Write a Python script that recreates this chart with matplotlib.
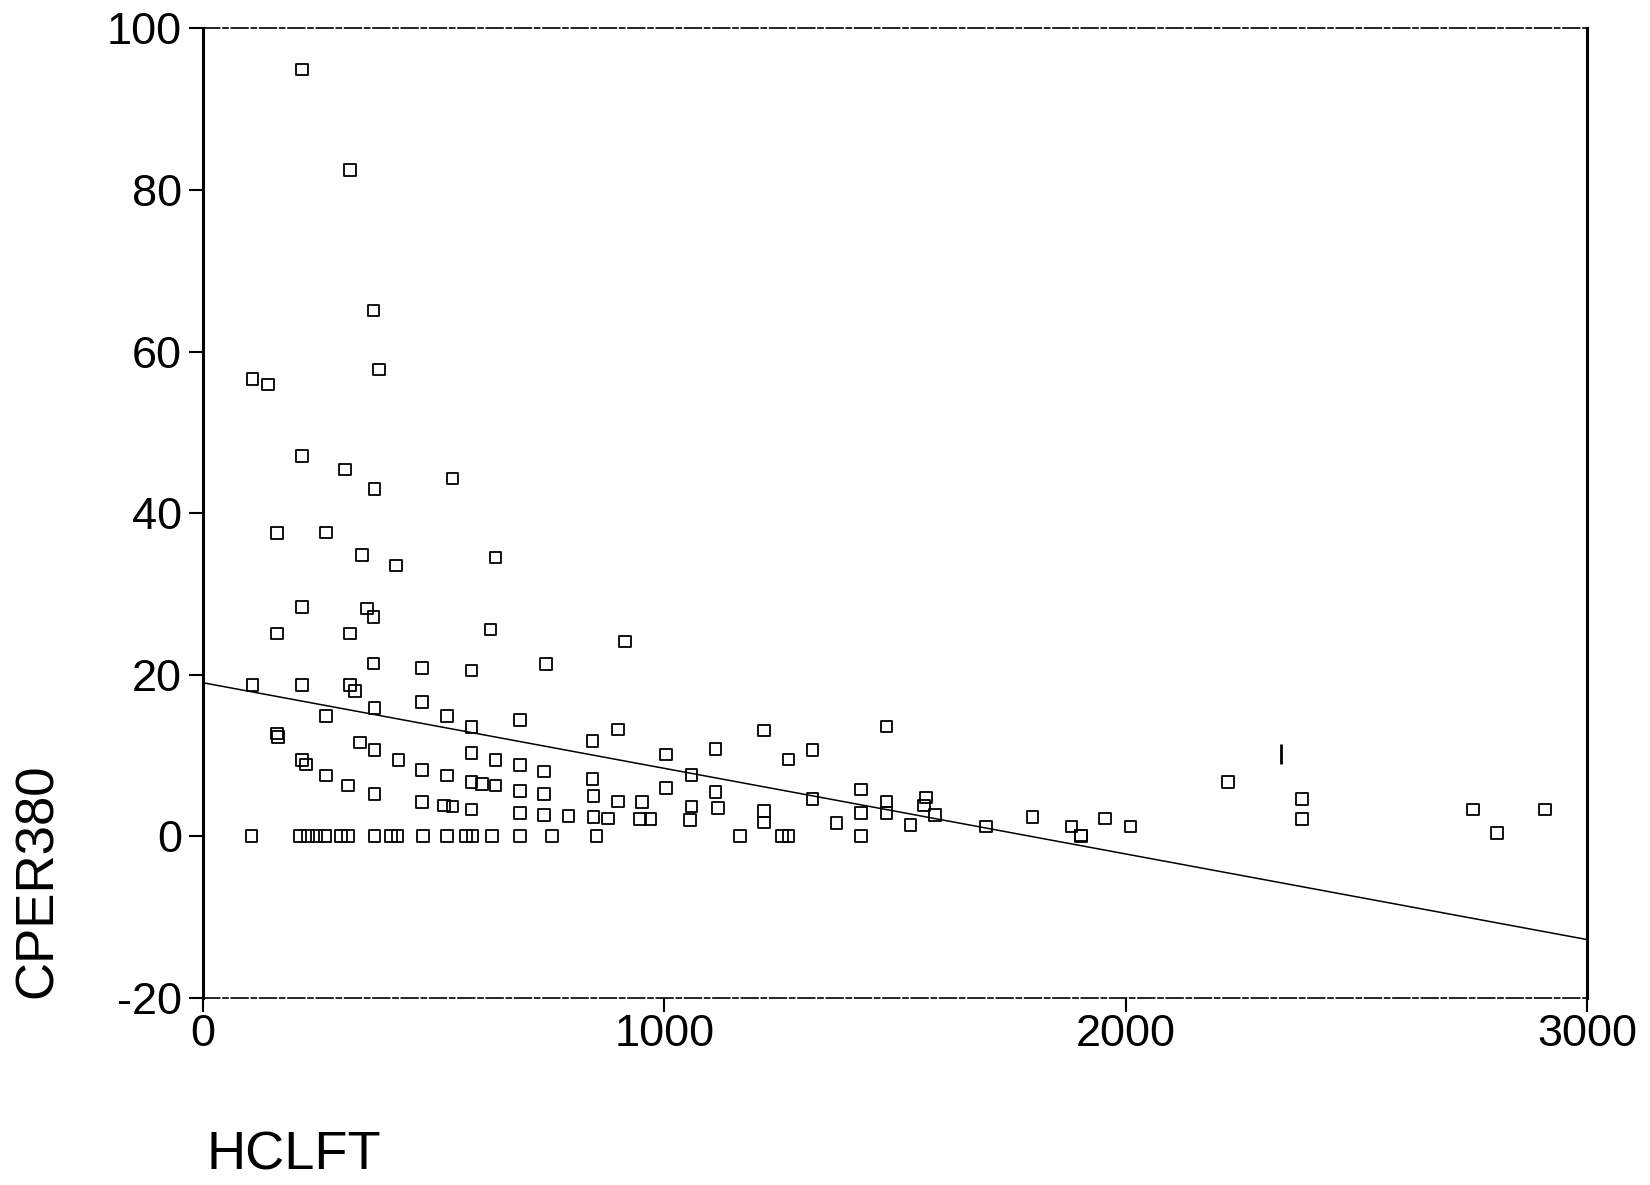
import matplotlib.pyplot as plt

# HCLFT (x) and CPER380 (y)
hclft = [214, 319, 370, 381, 107, 141, 214, 308, 372, 541,
         160, 267, 345, 418, 634, 214, 356, 370, 160, 319,
         623, 915, 370, 475, 582, 744, 107, 214, 319, 329,
         372, 267, 475, 529, 582, 687, 160, 162, 340, 372,
         214, 223, 424, 582, 634, 267, 475, 529, 315, 372,
         582, 605, 634, 687, 687, 739, 739, 475, 522, 541,
         582, 687, 739, 792, 844, 846, 846, 878, 899, 951,
         947, 970, 1004, 1059, 1056, 1111, 1116, 1216, 1216, 1321,
         1373, 1426, 1426, 1481, 1481, 1533, 1567, 1563, 1586, 1697,
         1798, 1882, 1903, 1955, 2010, 2222, 2382, 2382, 2752, 2804,
         2909, 844, 899, 1004, 1059, 1111, 1216, 1269, 1321, 1481,
         105, 210, 228, 246, 265, 299, 315, 372, 408, 422,
         477, 529, 570, 584, 627, 687, 757, 853, 1164, 1255,
         1269, 1426, 1903]
cper380 = [94.9, 82.5, 65.1, 57.8, 56.6, 55.9, 47.1, 45.4, 43.0, 44.3,
           37.5, 37.6, 34.8, 33.5, 34.5, 28.4, 28.2, 27.1, 25.1, 25.1,
           25.6, 24.1, 21.4, 20.8, 20.5, 21.3, 18.7, 18.7, 18.7, 18.0,
           15.9, 14.9, 16.6, 14.9, 13.5, 14.4, 12.7, 12.3, 11.6, 10.7,
           9.4, 8.9, 9.4, 10.3, 9.4, 7.5, 8.2, 7.5, 6.3, 5.2,
           6.7, 6.5, 6.3, 8.8, 5.6, 8.0, 5.2, 4.2, 3.8, 3.7,
           3.3, 2.9, 2.6, 2.5, 7.1, 5.0, 2.4, 2.2, 4.3, 4.2,
           2.1, 2.1, 6.0, 3.7, 2.0, 5.5, 3.5, 3.1, 1.7, 4.6,
           1.6, 5.8, 2.9, 4.3, 2.9, 1.4, 4.8, 3.8, 2.6, 1.2,
           2.4, 1.2, 0.1, 2.2, 1.2, 6.7, 4.6, 2.1, 3.3, 0.4,
           3.3, 11.8, 13.2, 10.1, 7.6, 10.8, 13.1, 9.5, 10.7, 13.6,
           0, 0, 0, 0, 0, 0, 0, 0, 0, 0,
           0, 0, 0, 0, 0, 0, 0, 0, 0, 0,
           0, 0, 0]

# one mark that only printed as a bar
bar_x = [2336]
bar_y = [10.2]

# fitted line as printed
fit_intercept = 19.0
fit_slope = -0.0106
fit_x = [0, 3000]

plt.rcParams['font.family'] = ['Liberation Sans', 'DejaVu Sans']
plt.rcParams['axes.unicode_minus'] = False

fig = plt.figure(figsize=(16.5, 11.85), dpi=100)
ax = fig.add_axes([0.123, 0.158, 0.839, 0.818])

ax.scatter(hclft, cper380, marker='s', s=70, facecolors='none',
           edgecolors='black', linewidths=1.3, zorder=3)
ax.scatter(bar_x, bar_y, marker='|', s=200, color='black', linewidths=2, zorder=3)
ax.plot(fit_x, [fit_intercept + fit_slope * v for v in fit_x],
        color='black', lw=1.1, zorder=2)

ax.set_xlim(0, 3000)
ax.set_ylim(-20, 100)
ax.set_xticks([0, 1000, 2000, 3000])
ax.set_yticks([-20, 0, 20, 40, 60, 80, 100])
ax.tick_params(axis='both', labelsize=32.5, length=10, width=1.5, direction='out',
               colors='black')
ax.tick_params(axis='x', pad=2)
ax.tick_params(axis='y', pad=5)

ax.spines['left'].set_linewidth(2.2)
ax.spines['right'].set_linewidth(2.2)
for side in ['top', 'bottom']:
    ax.spines[side].set_linewidth(1.2)
    ax.spines[side].set_linestyle((0, (10, 2, 3, 2)))

fig.text(0.008, 0.158, 'CPER380', rotation=90, fontsize=38,
         ha='left', va='bottom')
fig.text(0.125, 0.013, 'HCLFT', fontsize=39, ha='left', va='baseline')

fig.savefig('out.png', dpi=100)
